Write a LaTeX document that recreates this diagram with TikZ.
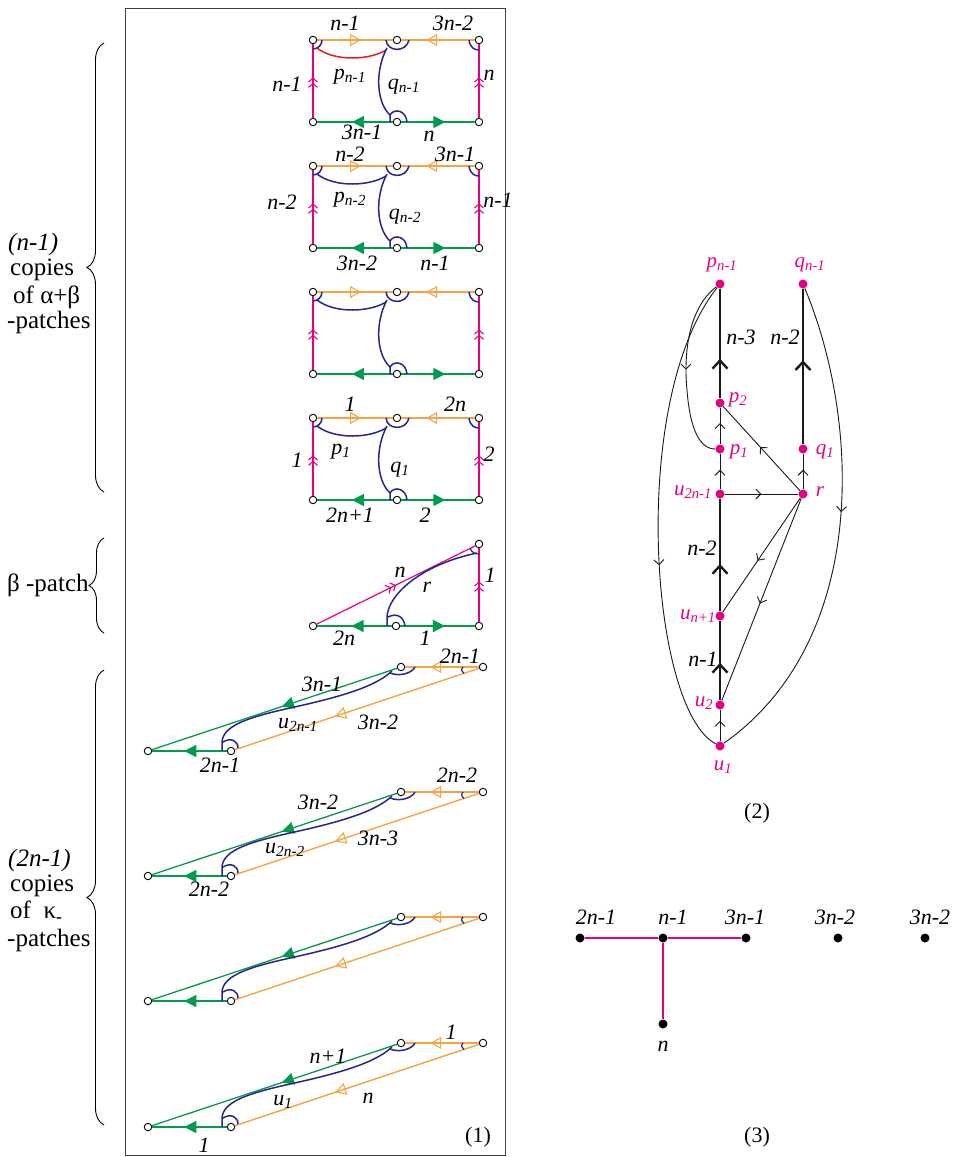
\documentclass[tikz,border=0pt]{standalone}
\usepackage{fontspec}
\setmainfont{Liberation Serif}
\usetikzlibrary{arrows.meta,decorations.markings,decorations.pathreplacing}
\definecolor{orng}{RGB}{246,164,66}
\definecolor{grn}{RGB}{0,155,75}
\definecolor{mag}{RGB}{228,0,130}
\definecolor{nav}{RGB}{38,38,140}
\definecolor{rd}{RGB}{232,28,36}
\tikzset{
 otip/.tip={Triangle[open,length=11pt,width=12pt,line width=1.1pt]},
 ftip/.tip={Triangle[length=12pt,width=12pt]},
 dchev/.tip={Straight Barb[length=4pt,width=9pt,line width=1.1pt] Straight Barb[length=4pt,width=9pt,line width=1.1pt]},
 tbarb/.tip={Straight Barb[length=5pt,width=10pt,line width=0.9pt]},
 kbarb/.tip={Straight Barb[length=8pt,width=15pt,line width=2.4pt]},
 midarr/.style 2 args={postaction={decorate,decoration={markings,mark=at position #1 with {\arrow{#2}}}}},
 vtx/.style={circle,draw=black,fill=white,line width=0.9pt,inner sep=0pt,minimum size=7.5pt},
 orl/.style={draw=orng,line width=1.4pt},
 grl/.style={draw=grn,line width=1.3pt},
 mgl/.style={draw=mag,line width=1.2pt},
 bll/.style={draw=nav,line width=1.5pt},
 lab/.style={font=\fontsize{22}{24}\selectfont\itshape,inner sep=0pt},
 glab/.style={font=\fontsize{21}{23}\selectfont\itshape,text=mag,inner sep=0pt},
 btxt/.style={font=\fontsize{25}{27}\selectfont,inner sep=0pt,anchor=west},
 gdot/.style={circle,fill=mag,inner sep=0pt,minimum size=9pt},
 bdot/.style={circle,fill=black,inner sep=0pt,minimum size=9pt},
 thk/.style={draw=black!90,line width=2.6pt},
 thn/.style={draw=black!90,line width=0.9pt},
}
\newcommand\lsub[1]{\textsubscript{#1}}
\newcommand\rpatch[3]{%
\begin{scope}[shift={(0,#2)}]
\node[vtx] (#1tl) at (313,0) {};
\node[vtx] (#1tm) at (397,0) {};
\node[vtx] (#1tr) at (479,0) {};
\node[vtx] (#1bl) at (313,82) {};
\node[vtx] (#1bm) at (397,82) {};
\node[vtx] (#1br) at (479,82) {};
\draw[orl,midarr={0.58}{otip}] (#1tl) -- (#1tm);
\draw[orl,midarr={0.66}{otip}] (#1tr) -- (#1tm);
\draw[grl,midarr={0.54}{ftip}] (#1bm) -- (#1bl);
\draw[grl,midarr={0.6}{ftip}] (#1bm) -- (#1br);
\draw[mgl,midarr={0.55}{dchev}] (#1bl) -- (#1tl);
\draw[mgl,midarr={0.55}{dchev}] (#1br) -- (#1tr);
\draw[bll] (313,9) .. controls (318,9) and (322,5) .. (322,0);
\draw[line width=1.5pt,draw=#3] (317,8) .. controls (335,22) and (370,20) .. (386,10);
\draw[bll] (386,0) .. controls (387,12) and (406,13) .. (409,0);
\draw[bll] (387,8) .. controls (375,30) and (376,62) .. (390,75) -- (390,82);
\draw[bll] (390,75) .. controls (394,68) and (406,70) .. (407,82);
\draw[bll] (469,0) .. controls (470,8) and (475,10) .. (479,10);
\end{scope}}
\newcommand\kpatch[2]{%
\begin{scope}[shift={(0,#2)}]
\node[vtx] (#1um) at (401,0) {};
\node[vtx] (#1ur) at (483,0) {};
\node[vtx] (#1lf) at (148,84) {};
\node[vtx] (#1lw) at (231,84) {};
\draw[grl,midarr={0.47}{ftip}] (#1um) -- (#1lf);
\draw[grl,midarr={0.57}{ftip}] (#1lw) -- (#1lf);
\draw[orl,midarr={0.66}{otip}] (#1ur) -- (#1um);
\draw[orl,midarr={0.59}{otip}] (#1ur) -- (#1lw);
\draw[bll] (222,84) -- (222,75) .. controls (223,58) and (250,50) .. (290,41) .. controls (340,30) and (375,20) .. (392,4);
\draw[bll] (223,75) .. controls (231,70) and (238,74) .. (238,81);
\draw[bll] (390,6) .. controls (400,10) and (412,6) .. (415,0);
\draw[bll,line width=1.2pt] (463,0) .. controls (461,3) .. (464,6.5);
\end{scope}}
\begin{document}
\begin{tikzpicture}[x=1pt,y={(0pt,-1pt)}]
\useasboundingbox (0,0) rectangle (954,1157);
% main frame
\draw[line width=0.9pt,draw=black!75] (125,8) rectangle (505,1155);
% braces and texts
\draw[line width=0.9pt,decorate,decoration={brace,amplitude=17pt}] (104,492) -- (104,43);
\draw[line width=0.9pt,decorate,decoration={brace,amplitude=15pt}] (104,633) -- (104,538);
\draw[line width=0.9pt,decorate,decoration={brace,amplitude=17pt}] (104,1125) -- (104,670);
\node[btxt] (t1) at (8,244) {\itshape (n-1)};
\node[btxt] (t2) at (10,270) {copies};
\node[btxt] (t3) at (13,297) {of α+β};
\node[btxt] (t4) at (7,322) {-patches};
\node[btxt] (t5) at (7,585) {β -patch};
\node[btxt] (t6) at (8,860) {\itshape (2n-1)};
\node[btxt] (t7) at (10,886) {copies};
\node[btxt] (t8) at (10,912) {of\ \ κ\textsubscript{\textbf{-}}};
\node[btxt] (t9) at (7,940) {-patches};
% rectangular patches
\rpatch{A}{40}{rd}
\rpatch{B}{166}{nav}
\rpatch{C}{292}{nav}
\rpatch{D}{418}{nav}
% patch A labels
\node[lab] (la1) at (345,23) {n-1};
\node[lab] (la2) at (453,23) {3n-2};
\node[lab] (la3) at (287,84) {n-1};
\node[lab] (la4) at (489,75) {n};
\node[lab] (la5) at (350,77) {p\lsub{n-1}};
\node[lab] (la6) at (404,87) {q\lsub{n-1}};
\node[lab] (la7) at (362,132) {3n-1};
\node[lab] (la8) at (429,136) {n};
% patch B labels
\node[lab] (lb1) at (350,154) {n-2};
\node[lab] (lb2) at (455,154) {3n-1};
\node[lab] (lb3) at (282,202) {n-2};
\node[lab] (lb4) at (498,200) {n-1};
\node[lab] (lb5) at (350,200) {p\lsub{n-2}};
\node[lab] (lb6) at (405,217) {q\lsub{n-2}};
\node[lab] (lb7) at (357,263) {3n-2};
\node[lab] (lb8) at (435,263) {n-1};
% patch D labels
\node[lab] (ld1) at (350,404) {1};
\node[lab] (ld2) at (455,404) {2n};
\node[lab] (ld3) at (297,460) {1};
\node[lab] (ld4) at (489,454) {2};
\node[lab] (ld5) at (341,452) {p\lsub{1}};
\node[lab] (ld6) at (400,470) {q\lsub{1}};
\node[lab] (ld7) at (350,515) {2n+1};
\node[lab] (ld8) at (425,515) {2};
% beta patch
\node[vtx] (Ebl) at (313,626) {};
\node[vtx] (Ebm) at (396,626) {};
\node[vtx] (Ebr) at (479,626) {};
\node[vtx] (Etr) at (479,544) {};
\draw[mgl,midarr={0.5}{dchev}] (Ebl) -- (Etr);
\draw[mgl,midarr={0.55}{dchev}] (Ebr) -- (Etr);
\draw[grl,midarr={0.54}{ftip}] (Ebm) -- (Ebl);
\draw[grl,midarr={0.6}{ftip}] (Ebm) -- (Ebr);
\draw[bll] (387,626) -- (387,617) .. controls (388,595) and (420,565) .. (477,553);
\draw[bll] (388,617) .. controls (398,612) and (404,618) .. (405,626);
\draw[bll,line width=1.2pt] (470,548.4) .. controls (472,553) and (476,554) .. (479,554);
\node[lab] (le1) at (400,572) {n};
\node[lab] (le2) at (427,587) {r};
\node[lab] (le3) at (490,575) {1};
\node[lab] (le4) at (344,638) {2n};
\node[lab] (le5) at (425,638) {1};
% kappa patches
\kpatch{K}{667}
\kpatch{L}{792}
\kpatch{M}{917}
\kpatch{N}{1043}
\node[lab] (lk1) at (322,684) {3n-1};
\node[lab] (lk2) at (460,656) {2n-1};
\node[lab] (lk3) at (298,725) {u\lsub{2n-1}};
\node[lab] (lk4) at (378,722) {3n-2};
\node[lab] (lk5) at (220,765) {2n-1};
\node[lab] (ll1) at (318,802) {3n-2};
\node[lab] (ll2) at (457,775) {2n-2};
\node[lab] (ll3) at (285,850) {u\lsub{2n-2}};
\node[lab] (ll4) at (378,838) {3n-3};
\node[lab] (ll5) at (209,889) {2n-2};
\node[lab] (ln1) at (328,1056) {n+1};
\node[lab] (ln2) at (451,1032) {1};
\node[lab] (ln3) at (283,1102) {u\lsub{1}};
\node[lab] (ln4) at (368,1098) {n};
\node[lab] (ln5) at (204,1145) {1};
\node[font=\fontsize{22}{24}\selectfont,inner sep=0pt] (c1) at (478,1137) {(1)};
% graph (2)
\node[gdot] (pn) at (720,284) {};
\node[gdot] (qn) at (803,284) {};
\node[gdot] (p2) at (720,403) {};
\node[gdot] (p1) at (720,449) {};
\node[gdot] (q1) at (803,449) {};
\node[gdot] (u2n) at (720,494) {};
\node[gdot] (r) at (803,494) {};
\node[gdot] (un1) at (720,616) {};
\node[gdot] (u2) at (720,705) {};
\node[gdot] (u1) at (720,746) {};
\draw[thk,midarr={0.36}{kbarb}] (p2) -- (pn);
\draw[thk,midarr={0.54}{kbarb}] (q1) -- (qn);
\draw[thk,midarr={0.42}{kbarb}] (un1) -- (u2n);
\draw[thk,midarr={0.47}{kbarb}] (u2) -- (un1);
\draw[thn,midarr={0.58}{tbarb}] (p1) -- (p2);
\draw[thn,midarr={0.55}{tbarb}] (u2n) -- (p1);
\draw[thn,midarr={0.55}{tbarb}] (r) -- (q1);
\draw[thn,midarr={0.5}{tbarb}] (u2n) -- (r);
\draw[thn,midarr={0.52}{tbarb}] (r) -- (p2);
\draw[thn,midarr={0.55}{tbarb}] (r) -- (un1);
\draw[thn,midarr={0.52}{tbarb}] (r) -- (u2);
\draw[thn,midarr={0.65}{tbarb}] (u1) -- (u2);
\draw[thn,midarr={0.6}{tbarb}] (pn) .. controls (628,400) and (650,710) .. (u1);
\draw[thn,midarr={0.46}{tbarb}] (qn) .. controls (860,420) and (870,640) .. (u1);
\draw[thn,midarr={0.5}{tbarb}] (pn) .. controls (686,310) and (684,360) .. (687,390) .. controls (690,430) and (700,449) .. (p1);
\node[glab] (gpn) at (722,265) {p\lsub{n-1}};
\node[glab] (gqn) at (810,265) {q\lsub{n-1}};
\node[glab] (gp2) at (738,400) {p\lsub{2}};
\node[glab] (gp1) at (739,452) {p\lsub{1}};
\node[glab] (gq1) at (825,452) {q\lsub{1}};
\node[glab] (gu2n) at (693,492) {u\lsub{2n-1}};
\node[glab] (gr) at (820,492) {r};
\node[glab] (gun1) at (698,616) {u\lsub{n+1}};
\node[glab] (gu2) at (704,703) {u\lsub{2}};
\node[glab] (gu1) at (723,767) {u\lsub{1}};
\node[lab] (gl1) at (741,337) {n-3};
\node[lab] (gl2) at (785,337) {n-2};
\node[lab] (gl3) at (702,548) {n-2};
\node[lab] (gl4) at (703,659) {n-1};
\node[font=\fontsize{22}{24}\selectfont,inner sep=0pt] (c2) at (757,813) {(2)};
% graph (3)
\node[bdot] (s1) at (580,938) {};
\node[bdot] (s2) at (663,938) {};
\node[bdot] (s3) at (746,938) {};
\node[bdot] (s4) at (838,938) {};
\node[bdot] (s5) at (925,938) {};
\node[bdot] (s6) at (663,1024) {};
\draw[draw=mag,line width=1.8pt] (s1) -- (s2);
\draw[draw=mag,line width=1.8pt] (s2) -- (s3);
\draw[draw=mag,line width=1.8pt] (s2) -- (s6);
\node[lab] (m1) at (596,917) {2n-1};
\node[lab] (m2) at (673,917) {n-1};
\node[lab] (m3) at (745,917) {3n-1};
\node[lab] (m4) at (835,917) {3n-2};
\node[lab] (m5) at (930,917) {3n-2};
\node[lab] (m6) at (663,1046) {n};
\node[font=\fontsize{22}{24}\selectfont,inner sep=0pt] (c3) at (757,1137) {(3)};
\end{tikzpicture}
\end{document}
